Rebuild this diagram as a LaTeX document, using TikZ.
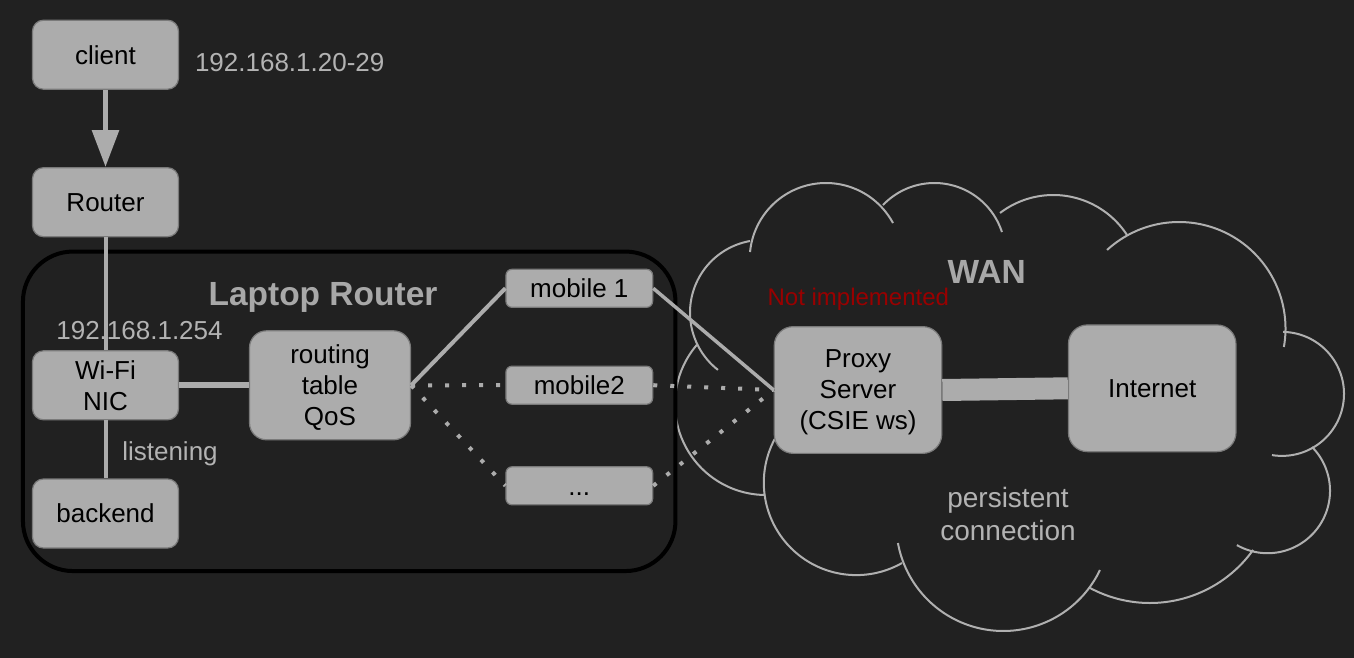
\documentclass[tikz,border=0pt]{standalone}
\usepackage{fontspec}
\setmainfont{Liberation Sans}
\usetikzlibrary{arrows.meta}
\definecolor{bgc}{HTML}{212121}
\definecolor{boxfill}{HTML}{ACACAC}
\definecolor{boxedge}{HTML}{7A7A7A}
\definecolor{linec}{HTML}{ACACAC}
\definecolor{labelc}{HTML}{B3B3B3}
\definecolor{titlec}{HTML}{A8A8A8}
\definecolor{cloudc}{HTML}{B0B0B0}
\definecolor{redc}{HTML}{990000}
\newcommand{\cloudlobe}[5]{\draw[cloudline] plot[domain=#4:#5,samples=80] ({#1+#3*cos(\x)},{#2+#3*sin(\x)});}
\tikzset{
  boxbase/.style={draw=boxedge, line width=1.2pt, fill=boxfill, text=black, align=center,
    inner sep=0pt, text depth=0pt, font=\fontsize{26}{31}\selectfont},
  bigbox/.style={boxbase, minimum width=146pt, minimum height=69pt, rounded corners=11pt},
  mobbox/.style={boxbase, minimum width=146.7pt, minimum height=38pt, rounded corners=6pt},
  srvbox/.style={boxbase, minimum width=167.5pt, minimum height=126.7pt, rounded corners=19pt},
  conn/.style={draw=linec, line width=4pt},
  dotconn/.style={draw=linec, line width=4pt, dash pattern=on 4pt off 13pt},
  cloudline/.style={draw=cloudc, line width=2pt},
  lbl/.style={text=labelc, inner sep=0pt, anchor=base, font=\fontsize{26}{31}\selectfont},
  ttl/.style={text=titlec, inner sep=0pt, anchor=base, font=\fontsize{33.5}{40}\selectfont\bfseries},
}
\begin{document}
\begin{tikzpicture}[x=1pt,y=-1pt]
\fill[bgc] (0,0) rectangle (1354,658);
\useasboundingbox (0,0) rectangle (1354,658);

% cloud (WAN)
\cloudlobe{762.7}{312.6}{72.7}{128}{260}
\cloudlobe{825.9}{259.2}{76.2}{185.4}{331.7}
\cloudlobe{934.4}{254.0}{71.0}{223.6}{342}
\cloudlobe{1053.3}{282.9}{87.9}{232.7}{327}
\cloudlobe{1179.0}{328.5}{106.5}{227.5}{370}
\cloudlobe{1282.0}{393.9}{62.0}{271}{459.3}
\cloudlobe{1267.6}{490.8}{62.4}{315.4}{479.5}
\cloudlobe{1149.9}{476.1}{126.9}{35.6}{118.2}
\cloudlobe{1003.3}{523.9}{107.1}{25.5}{169.7}
\cloudlobe{856.3}{482.6}{92.5}{60.4}{215}
\cloudlobe{766}{404}{91}{90.6}{220.7}

% laptop router container
\node[draw=black, line width=4pt, rounded corners=50pt, minimum width=652.5pt,
  minimum height=319.5pt, inner sep=0pt] (laptop) at (349.2,411.3) {};

% boxes
\node[bigbox] (client) at (105.5,54.7) {client};
\node[bigbox] (router) at (105.5,202.2) {Router};
\node[bigbox] (wifi) at (105.5,385.3) {Wi-Fi\\NIC};
\node[bigbox] (backend) at (105.5,513.5) {backend};
\node[boxbase, minimum width=161pt, minimum height=109pt, rounded corners=17pt] (routing) at (330,385.3) {routing\\table\\QoS};
\node[mobbox] (mobile1) at (579.3,288.3) {mobile 1};
\node[mobbox] (mobile2) at (579.3,385.2) {mobile2};
\node[mobbox] (dots) at (579.3,485.8) {\vphantom{l}...};
\node[srvbox] (proxy) at (858,390) {Proxy\\Server\\(CSIE ws)};
\node[srvbox] (internet) at (1152.2,388.3) {Internet};

% labels
\node[lbl] (ipclient) at (289.7,71.7) {192.168.1.20-29};
\node[lbl] (ipnic) at (139.5,339) {192.168.1.254};
\node[lbl] (listen) at (170,460.5) {listening};
\node[ttl] (laptoptitle) at (323,305) {Laptop Router};
\node[ttl] (wantitle) at (986.7,283.3) {WAN};
\node[text=redc, inner sep=0pt, anchor=base, font=\fontsize{24}{29}\selectfont] (notimpl) at (858.3,305) {Not implemented};
\node[text=labelc, inner sep=0pt, align=center, text depth=0pt, font=\fontsize{28}{32.7}\selectfont] (persist) at (1008,513.7) {persistent\\connection};

% connectors
\draw[draw=linec, line width=5.7pt, -{Triangle[width=26pt,length=37pt]}] (client.south) -- (router.north);
\draw[conn] (router.south) -- (wifi.north);
\draw[conn] (wifi.south) -- (backend.north);
\draw[conn, line width=6pt] (wifi.east) -- (routing.west);
\draw[conn] (routing.east) -- (mobile1.west);
\draw[dotconn] (routing.east) -- (mobile2.west);
\draw[dotconn] (routing.east) -- (dots.west);
\draw[conn, line width=3.5pt] (mobile1.east) -- (proxy.west);
\draw[dotconn] (mobile2.east) -- (proxy.west);
\draw[dotconn] (dots.east) -- (proxy.west);
\draw[draw=linec, line width=22pt] (proxy.east) -- (internet.west);
\end{tikzpicture}
\end{document}
